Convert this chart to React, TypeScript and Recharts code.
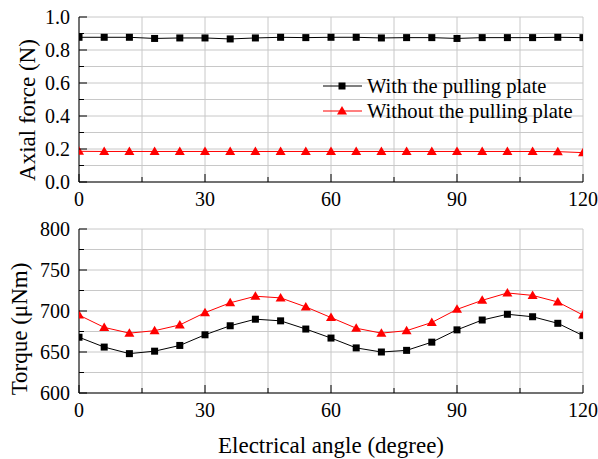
import React from 'react';
import { LineChart, Line, XAxis, YAxis, CartesianGrid } from 'recharts';

const FONT = 'Liberation Serif, Times New Roman, serif';

// electrical angle (degree)
const angles = [0, 6, 12, 18, 24, 30, 36, 42, 48, 54, 60, 66, 72, 78, 84, 90, 96, 102, 108, 114, 120];

// axial force (N)
const axialWith = [0.877, 0.877, 0.877, 0.870, 0.873, 0.873, 0.867, 0.873, 0.877, 0.875, 0.877, 0.877, 0.873, 0.875, 0.875, 0.870, 0.875, 0.875, 0.875, 0.877, 0.875];
const axialWithout = [0.186, 0.185, 0.185, 0.185, 0.185, 0.185, 0.185, 0.185, 0.185, 0.185, 0.185, 0.185, 0.185, 0.185, 0.185, 0.185, 0.185, 0.185, 0.185, 0.184, 0.178];

// torque (uNm)
const torqueWith = [668, 656, 648, 651, 658, 671, 682, 690, 688, 678, 667, 655, 650, 652, 662, 677, 689, 696, 693, 685, 670];
const torqueWithout = [695, 680, 673, 676, 683, 698, 710, 718, 716, 705, 692, 679, 673, 676, 686, 702, 713, 722, 719, 711, 695];

const xTicks = [0, 15, 30, 45, 60, 75, 90, 105, 120];
const axialTicks = [0, 0.1, 0.2, 0.3, 0.4, 0.5, 0.6, 0.7, 0.8, 0.9, 1.0];
const torqueTicks = [600, 625, 650, 675, 700, 725, 750, 775, 800];

const seriesNames = ['With the pulling plate', 'Without the pulling plate'];

const axialData = angles.map((a, i) => ({ angle: a, with: axialWith[i], without: axialWithout[i] }));
const torqueData = angles.map((a, i) => ({ angle: a, with: torqueWith[i], without: torqueWithout[i] }));

const Square = ({ cx, cy }: any) => <rect x={cx - 3.5} y={cy - 3.5} width={7} height={7} fill="#000" />;
const Tri = ({ cx, cy }: any) => (
  <polygon points={`${cx},${cy - 5} ${cx - 5},${cy + 3.5} ${cx + 5},${cy + 3.5}`} fill="#ff0000" />
);

const leftTick = (isMajor: (v: number) => boolean, fmt: (v: number) => string) => (props: any) => {
  const { x, y, payload, index } = props;
  const major = isMajor(payload.value);
  return (
    <g key={index}>
      <line x1={x} x2={x + (major ? 8 : 5)} y1={y} y2={y} stroke="#000" />
      {major && (
        <text x={x - 9} y={y + 7} textAnchor="end" fontFamily={FONT} fontSize={20} fill="#000">
          {fmt(payload.value)}
        </text>
      )}
    </g>
  );
};

const bottomTick = (props: any) => {
  const { x, y, payload, index } = props;
  const major = payload.value % 30 === 0;
  return (
    <g key={index}>
      <line x1={x} x2={x} y1={y} y2={y - (major ? 8 : 5)} stroke="#000" />
      {major && (
        <text x={x} y={y + 24} textAnchor="middle" fontFamily={FONT} fontSize={20} fill="#000">
          {payload.value}
        </text>
      )}
    </g>
  );
};

const Panel = ({ data, domain, ticks, tick, top, height, margin, plot }: any) => (
  <div style={{ position: 'absolute', left: 0, top }}>
    <LineChart width={598} height={height} data={data} margin={margin} style={{ fontFamily: FONT }}>
      <CartesianGrid stroke="#c8c8c8" />
      <XAxis
        dataKey="angle"
        type="number"
        domain={[0, 120]}
        ticks={xTicks}
        interval={0}
        allowDataOverflow
        tickSize={0}
        tickMargin={0}
        tick={bottomTick}
        axisLine={{ stroke: '#000' }}
        height={height - margin.top - margin.bottom - plot}
      />
      <XAxis xAxisId="t" dataKey="angle" type="number" domain={[0, 120]} orientation="top" height={0} tick={false} tickLine={false} axisLine={{ stroke: '#000' }} />
      <YAxis
        type="number"
        domain={domain}
        ticks={ticks}
        interval={0}
        width={79}
        tickSize={0}
        tickMargin={0}
        tick={tick}
        axisLine={{ stroke: '#000' }}
      />
      <YAxis yAxisId="r" type="number" domain={domain} orientation="right" width={0} tick={false} tickLine={false} axisLine={{ stroke: '#000' }} />
      <Line dataKey="with" name={seriesNames[0]} stroke="#000" strokeWidth={1} dot={(p: any) => <Square key={p.index} {...p} />} isAnimationActive={false} />
      <Line dataKey="without" name={seriesNames[1]} stroke="#ff0000" strokeWidth={1} dot={(p: any) => <Tri key={p.index} {...p} />} isAnimationActive={false} />
    </LineChart>
  </div>
);

const LegendBox = () => (
  <svg width={275} height={50} style={{ position: 'absolute', left: 318, top: 73, fontFamily: FONT }}>
    <line x1={5} x2={44} y1={13} y2={13} stroke="#000" />
    <Square cx={24} cy={13} />
    <text x={49} y={20} fontFamily={FONT} fontSize={20.6} fill="#000">{seriesNames[0]}</text>
    <line x1={5} x2={44} y1={38} y2={38} stroke="#ff0000" />
    <Tri cx={24} cy={38} />
    <text x={49} y={45} fontFamily={FONT} fontSize={20.6} fill="#000">{seriesNames[1]}</text>
  </svg>
);

const vTitle = (text: string, cx: number, cy: number) => (
  <div
    style={{
      position: 'absolute',
      left: cx,
      top: cy,
      transform: 'translate(-50%, -50%) rotate(-90deg)',
      whiteSpace: 'nowrap',
      fontSize: 23,
      lineHeight: 1,
    }}
  >
    {text}
  </div>
);

export default function App() {
  return (
    <div style={{ position: 'absolute', left: 0, top: 0, width: 598, height: 459, background: '#fff', overflow: 'hidden', fontFamily: FONT }}>
      <Panel
        data={axialData}
        domain={[0, 1]}
        ticks={axialTicks}
        tick={leftTick((v) => Math.round(v * 10) % 2 === 0, (v) => v.toFixed(1))}
        top={0}
        height={210}
        margin={{ top: 17, right: 15, bottom: 0, left: 0 }}
        plot={165}
      />
      <Panel
        data={torqueData}
        domain={[600, 800]}
        ticks={torqueTicks}
        tick={leftTick((v) => v % 50 === 0, (v) => String(v))}
        top={210}
        height={214}
        margin={{ top: 19, right: 15, bottom: 0, left: 0 }}
        plot={164}
      />
      <LegendBox />
      {vTitle('Axial force (N)', 27, 110)}
      {vTitle('Torque (\u03bcNm)', 19, 329)}
      <div
        style={{
          position: 'absolute',
          left: 331,
          top: 445,
          transform: 'translate(-50%, -50%)',
          whiteSpace: 'nowrap',
          fontSize: 23,
          lineHeight: 1,
        }}
      >
        Electrical angle (degree)
      </div>
    </div>
  );
}
